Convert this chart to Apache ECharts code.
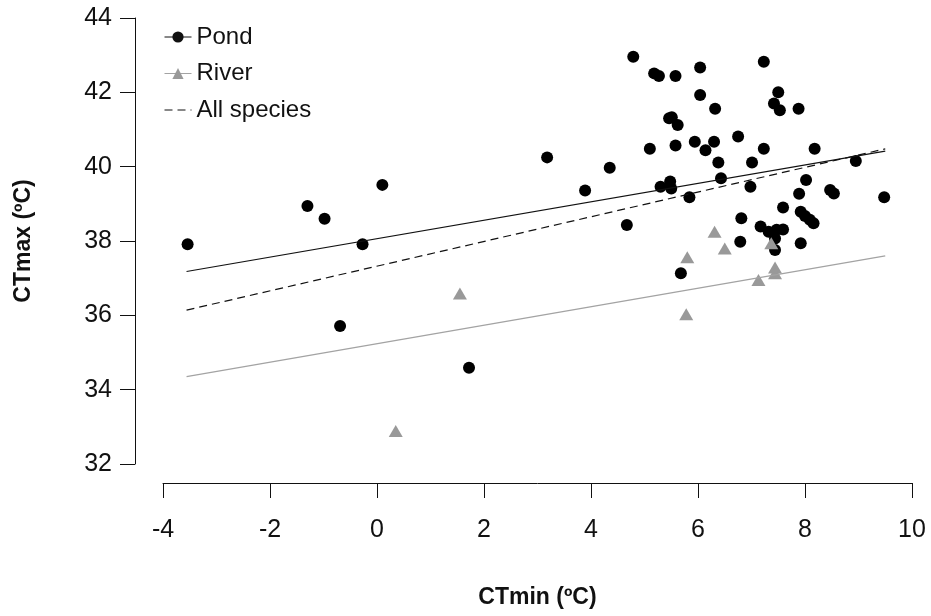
<!DOCTYPE html>
<html>
<head>
<meta charset="utf-8">
<script src="https://cdn.jsdelivr.net/npm/echarts@6/dist/echarts.min.js"></script>
<style>
  html, body { margin: 0; padding: 0; background: #fff; }
  #chart { width: 931px; height: 616px; }
</style>
</head>
<body>
<div id="chart"></div>
<script>
// Thermal limits per species: [CTmin, CTmax] in degrees C
const pondPoints = [
  [-3.54, 37.91], [-1.30, 38.94], [-0.98, 38.60], [-0.27, 37.91], [0.10, 39.51],
  [-0.69, 35.71], [1.72, 34.59], [3.18, 40.25], [3.89, 39.36], [4.35, 39.97],
  [4.67, 38.43], [4.79, 42.96], [5.18, 42.51], [5.27, 42.44], [5.58, 42.44],
  [6.04, 42.67], [7.23, 42.82], [7.46, 44.04], [6.04, 41.93], [7.50, 42.00],
  [7.42, 41.70], [7.53, 41.52], [7.88, 41.56], [6.32, 41.56], [5.46, 41.30],
  [5.51, 41.33], [5.62, 41.12], [5.10, 40.48], [5.58, 40.57], [5.94, 40.67],
  [6.30, 40.67], [6.14, 40.44], [6.75, 40.81], [7.23, 40.48], [8.18, 40.48],
  [6.38, 40.11], [7.01, 40.11], [8.95, 40.15], [5.30, 39.46], [5.48, 39.60],
  [5.50, 39.41], [6.43, 39.69], [6.98, 39.46], [5.84, 39.18], [8.02, 39.64],
  [7.89, 39.27], [8.47, 39.37], [8.54, 39.28], [9.48, 39.18], [7.59, 38.90],
  [7.92, 38.79], [8.00, 38.67], [8.09, 38.57], [8.16, 38.48], [6.81, 38.61],
  [7.17, 38.39], [7.32, 38.25], [7.47, 38.30], [7.59, 38.31], [7.44, 38.07],
  [6.79, 37.98], [7.92, 37.94], [7.44, 37.76], [5.68, 37.13]
];
const riverPoints = [
  [0.35, 32.89], [1.55, 36.59], [5.78, 36.03], [5.80, 37.56], [6.31, 38.25],
  [6.50, 37.80], [7.37, 37.94], [7.44, 37.29], [7.44, 37.13], [7.13, 36.95]
];

// Fitted regression lines, drawn over the observed CTmin range
const pondFit = [[-3.56, 37.18], [9.50, 40.42]];
const riverFit = [[-3.56, 34.35], [9.50, 37.60]];
const allFit = [[-3.56, 36.14], [9.50, 40.48]];

// Axis settings
const xTicks = { min: -4, max: 10, step: 2 };
const yTicks = { min: 32, max: 44, step: 2 };
const xTitle = 'CTmin (ºC)';
const yTitle = 'CTmax (ºC)';

const FONT = "'Liberation Sans', Arial, sans-serif";
const INK = '#111';
const GREY_PT = '#999';
const GREY_LINE = '#a3a3a3';
const DASH = [8, 5];

const chart = echarts.init(document.getElementById('chart'), null, { renderer: 'canvas' });

function axisBase() {
  return {
    type: 'value',
    splitLine: { show: false },
    axisLine: { show: true, onZero: false, lineStyle: { color: INK, width: 1 } },
    axisTick: { show: true, length: 15, lineStyle: { color: INK, width: 1 } },
    axisLabel: { color: INK, fontFamily: FONT, fontSize: 25 },
    nameTextStyle: { color: INK, fontFamily: FONT, fontSize: 23, fontWeight: 'bold' },
    nameLocation: 'middle'
  };
}

const xAxis = Object.assign(axisBase(), {
  min: xTicks.min, max: xTicks.max, interval: xTicks.step,
  offset: 19,
  name: xTitle,
  nameGap: 103
});
xAxis.axisLabel = Object.assign(xAxis.axisLabel, { margin: 35 });

const yAxis = Object.assign(axisBase(), {
  min: yTicks.min, max: yTicks.max, interval: yTicks.step,
  offset: 28,
  name: yTitle,
  nameRotate: 90,
  nameGap: 100
});
yAxis.axisLabel = Object.assign(yAxis.axisLabel, { margin: 23 });

chart.setOption({
  backgroundColor: '#fff',
  animation: false,
  textStyle: { fontFamily: FONT },
  grid: { left: 163, right: 19, top: 18, bottom: 152, containLabel: false },
  xAxis: xAxis,
  yAxis: yAxis,
  legend: {
    orient: 'vertical',
    left: 164,
    top: 25,
    padding: 0,
    itemWidth: 27,
    itemHeight: 14,
    itemGap: 12.5,
    selectedMode: false,
    textStyle: { color: INK, fontFamily: FONT, fontSize: 24, lineHeight: 24 },
    data: [
      { name: 'Pond', itemStyle: { color: INK, borderWidth: 0 },
        lineStyle: { color: INK, width: 1, type: 'solid' } },
      { name: 'River', itemStyle: { color: GREY_PT, borderWidth: 0 },
        lineStyle: { color: GREY_LINE, width: 1, type: 'solid' } },
      { name: 'All species', itemStyle: { color: 'rgba(0,0,0,0)', borderWidth: 0 },
        lineStyle: { color: INK, width: 1, type: DASH } }
    ]
  },
  series: [
    {
      name: 'Pond', type: 'line', data: pondFit,
      symbol: 'circle', showSymbol: false, silent: true,
      itemStyle: { color: INK },
      lineStyle: { color: INK, width: 1.2 }
    },
    {
      name: 'River', type: 'line', data: riverFit,
      symbol: 'triangle', showSymbol: false, silent: true,
      itemStyle: { color: GREY_PT },
      lineStyle: { color: GREY_LINE, width: 1.2 }
    },
    {
      name: 'All species', type: 'line', data: allFit,
      symbol: 'none', showSymbol: false, silent: true,
      itemStyle: { color: 'rgba(0,0,0,0)' },
      lineStyle: { color: INK, width: 1.2, type: DASH }
    },
    {
      name: 'Pond species', type: 'scatter', data: pondPoints,
      symbol: 'circle', symbolSize: 12,
      itemStyle: { color: '#000', opacity: 1 }
    },
    {
      name: 'River species', type: 'scatter', data: riverPoints,
      symbol: 'triangle', symbolSize: [14, 12],
      itemStyle: { color: GREY_PT, opacity: 1 }
    }
  ]
});
</script>
</body>
</html>
